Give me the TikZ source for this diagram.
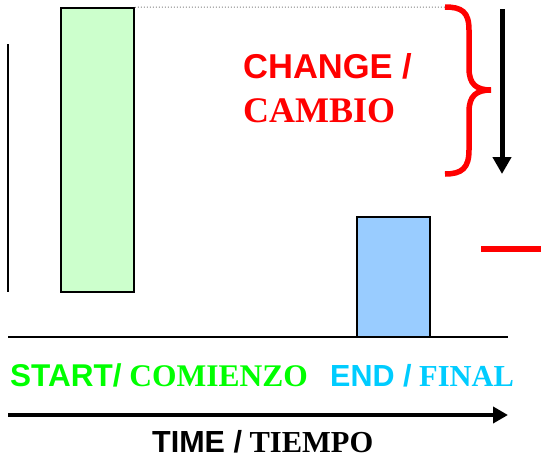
\documentclass[tikz,border=0pt]{standalone}
\usepackage{fontspec}
\setmainfont{Liberation Serif}
\setsansfont{Liberation Sans}
\usetikzlibrary{positioning,arrows.meta}
\definecolor{startgreen}{HTML}{00FF00}
\definecolor{startfill}{HTML}{CCFFCC}
\definecolor{endblue}{HTML}{00CCFF}
\definecolor{endfill}{HTML}{99CCFF}
\definecolor{changered}{HTML}{FF0000}

\begin{document}
\begin{tikzpicture}[x=1pt,y=-1pt,
                    bar/.style={draw,line width=1.5pt,inner sep=0pt,minimum width=73pt},
                    textlabel/.style={inner sep=0pt,anchor=base west,font=\fontsize{30.5}{36}\selectfont\bfseries},
                    bigarrow/.style={line width=5pt,-{Triangle[length=17pt,width=18pt]}}]
  \useasboundingbox (0,0) rectangle (541,458);

  % bars
  \node[bar,fill=startfill,minimum height=284pt] (startbar) at (97.5,150) {};
  \node[bar,fill=endfill,minimum height=120pt] (endbar) at (393.5,277) {};

  % axes
  \coordinate (origin) at (8,337);
  \coordinate (axisend) at (508,337);
  \coordinate (vtop) at (8,44);
  \coordinate (vbot) at (8,292);
  \draw[line width=1.5pt] (origin) -- (axisend);
  \draw[line width=2pt] (vtop) -- (vbot);

  % change marker
  \coordinate (bracetop) at (445,7);
  \coordinate (bracetip) at (491,90);
  \coordinate (bracebot) at (445,174);
  \draw[dotted,gray,line width=1pt] (startbar.north east) -- (bracetop);
  \draw[changered,line width=5.5pt,line cap=butt]
    (bracetop) .. controls (462,7) and (469,12) .. (469,30) -- (469,68)
    .. controls (469,84) and (476,90) .. (bracetip)
    .. controls (476,90) and (469,96) .. (469,112) -- (469,150)
    .. controls (469,168) and (462,174) .. (bracebot);
  \coordinate (downtop) at (502,9);
  \coordinate (downbot) at (502,174);
  \draw[bigarrow] (downtop) -- (downbot);
  \coordinate (levelleft) at (481,249);
  \coordinate (levelright) at (541,249);
  \draw[changered,line width=6.5pt] (levelleft) -- (levelright);

  \node[textlabel,text=changered,font=\fontsize{34.5}{40}\selectfont\bfseries] (change) at (243,78) {\sffamily CHANGE /};
  \node[textlabel,text=changered,font=\fontsize{36}{40}\selectfont\bfseries] (cambio) at (243,122) {CAMBIO};

  % labels
  \node[textlabel,text=startgreen,font=\fontsize{31.5}{36}\selectfont\bfseries] (start) at (10,386) {{\sffamily START/} COMIENZO};
  \node[textlabel,text=endblue] (end) at (330,386) {{\sffamily END /} FINAL};

  % time axis
  \coordinate (timestart) at (8,415);
  \coordinate (timeend) at (508,415);
  \draw[line width=4.5pt,-{Triangle[length=15pt,width=16pt]}] (timestart) -- (timeend);
  \node[textlabel] (time) at (152,452) {{\sffamily TIME /} TIEMPO};
\end{tikzpicture}
\end{document}
